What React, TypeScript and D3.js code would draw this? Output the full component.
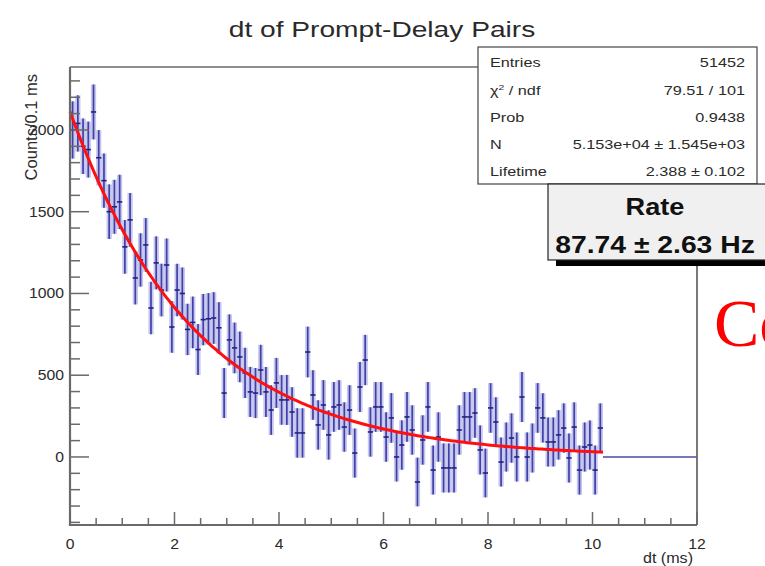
import React from 'react';
import * as d3 from 'd3';

// ---------- data ----------
const binWidth = 0.1;
const histMax = 12;
const counts = [
  2000, 2040, 1900, 1880, 2110, 1830, 1690, 1500, 1530, 1560,
  1285, 1450, 1095, 1205, 1297, 911, 1187, 1021, 1174, 795,
  1021, 1000, 780, 823, 657, 840, 845, 850, 790, 391,
  716, 667, 612, 514, 398, 391, 532, 398, 287, 453,
  349, 349, 275, 147, 147, 642, 379, 196, 318, 135,
  306, 318, 183, 287, 24, 428, 593, 153, 306, 306,
  122, 239, 0, 73, 245, 165, -153, 104, 306, -80,
  122, -67, -67, -67, 165, 245, 245, 269, 43, -98,
  300, 214, -31, 61, 116, 0, 367, 0, 55, 300,
  239, 92, 92, 135, 177, -6, 183, -80, 61, 73,
  -80, 177,
];
const errors = [
  175, 172, 170, 171, 168, 169, 166, 167, 165, 166,
  164, 165, 162, 163, 164, 160, 162, 161, 162, 158,
  160, 159, 157, 158, 156, 157, 157, 158, 157, 153,
  156, 155, 155, 154, 153, 153, 154, 153, 152, 153,
  152, 153, 152, 151, 151, 155, 152, 151, 152, 151,
  152, 152, 151, 152, 150, 153, 154, 151, 152, 152,
  151, 152, 150, 151, 152, 151, 149, 151, 152, 150,
  151, 150, 150, 150, 151, 152, 152, 152, 150, 149,
  152, 151, 150, 150, 151, 150, 153, 150, 150, 152,
  151, 150, 150, 151, 151, 150, 151, 150, 150, 150,
  150, 151,
];
const xMajorTicks = [0, 2, 4, 6, 8, 10, 12];
const yMajorTicks = [0, 500, 1000, 1500, 2000];
const statsLabels = ['Entries', 'CHI', 'Prob', 'N', 'Lifetime'];
const statsValues = ['51452', '79.51 / 101', '0.9438', '5.153e+04 \u00b1 1.545e+03', '2.388 \u00b1 0.102'];
const fitN = 51530;
const fitTau = 2.388;
const rateLabel = 'Rate';
const rateValue = '87.74 \u00b1 2.63 Hz';
const titleText = 'dt of Prompt-Delay Pairs';
const xTitle = 'dt (ms)';
const yTitle = 'Counts/0.1 ms';
const sideText = 'Co';

// ---------- layout ----------
const W = 765;
const H = 566;
const frame = { left: 70, right: 697, top: 67, bottom: 525 };
const SANS = '"Liberation Sans", Arial, Helvetica, sans-serif';

export default function App() {
  const x = d3.scaleLinear().domain([0, histMax]).range([frame.left, frame.right]);
  const y = d3.scaleLinear().domain([-416, 2385]).range([frame.bottom, frame.top]);

  const dataEnd = counts.length * binWidth;
  const fitFn = (t: number) =>
    fitN * (Math.exp(-t / fitTau) - Math.exp(-(t + binWidth) / fitTau));
  const fitPts = d3.range(0, dataEnd + 1e-9, dataEnd / 200).map((t) => [t, fitFn(t)] as [number, number]);
  const fitPath = d3.line<[number, number]>().x((d) => x(d[0])).y((d) => y(d[1]))(fitPts) || '';

  const xMinor = d3.range(0, histMax + 1e-9, 0.5);
  const yMinor = d3.range(-400, 2301, 100);

  const axisCol = '#6a6a6a';
  const textCol = '#2a2a2a';

  const T = (props: {
    x: number; y: number; sx: number; size: number; anchor?: string; weight?: string;
    fill?: string; family?: string; children: React.ReactNode;
  }) => (
    <text
      transform={`translate(${props.x},${props.y}) scale(${props.sx},1)`}
      fontSize={props.size}
      textAnchor={props.anchor || 'start'}
      fontWeight={props.weight || 'normal'}
      fill={props.fill || textCol}
      fontFamily={props.family || SANS}
    >
      {props.children}
    </text>
  );

  const statTop = 47;
  const rowY = [67, 94.5, 121.5, 148.5, 176];

  return (
    <div style={{ position: 'absolute', left: 0, top: 0 }}>
      <svg width={W} height={H} style={{ display: 'block', background: '#fff' }}>
        <rect x={0} y={0} width={W} height={H} fill="#fff" />

        {/* title */}
        <T x={382} y={37} sx={1.28} size={22} anchor="middle">{titleText}</T>

        {/* error bands */}
        <g>
          {counts.map((c, i) => (
            <rect
              key={'b' + i}
              x={x(i * binWidth)}
              y={y(c + errors[i])}
              width={x((i + 1) * binWidth) - x(i * binWidth)}
              height={y(c - errors[i]) - y(c + errors[i])}
              fill="#9090dc"
              fillOpacity={0.5}
            />
          ))}
        </g>
        {/* error bars */}
        <g>
          {counts.map((c, i) => {
            const cx = x((i + 0.5) * binWidth);
            return (
              <g key={'e' + i}>
                <line x1={cx} x2={cx} y1={y(c + errors[i])} y2={y(c - errors[i])} stroke="#4040aa" strokeWidth={1.7} />
                <line x1={x(i * binWidth)} x2={x((i + 1) * binWidth)} y1={y(c)} y2={y(c)} stroke="#22227e" strokeWidth={1.6} />
              </g>
            );
          })}
        </g>
        {/* empty bins */}
        <line x1={x(dataEnd)} x2={x(histMax)} y1={y(0)} y2={y(0)} stroke="#4a4aa8" strokeWidth={1.3} />

        {/* fit */}
        <path d={fitPath} fill="none" stroke="#ff1010" strokeWidth={3} />

        {/* frame */}
        <line x1={frame.left} x2={frame.right} y1={frame.top} y2={frame.top} stroke={axisCol} strokeWidth={1.5} />
        <line x1={frame.right} x2={frame.right} y1={frame.top} y2={frame.bottom} stroke={axisCol} strokeWidth={1.8} />
        <line x1={frame.left} x2={frame.left} y1={frame.top} y2={frame.bottom + 1} stroke={axisCol} strokeWidth={2.2} />
        <line x1={frame.left - 1} x2={frame.right} y1={frame.bottom} y2={frame.bottom} stroke={axisCol} strokeWidth={2.2} />

        {/* x ticks */}
        {xMinor.map((v) => {
          const major = xMajorTicks.includes(v);
          return (
            <line key={'xt' + v} x1={x(v)} x2={x(v)} y1={frame.bottom} y2={frame.bottom - (major ? 13 : 7)} stroke={axisCol} strokeWidth={1.5} />
          );
        })}
        {xMajorTicks.map((v) => (
          <T key={'xl' + v} x={x(v)} y={549} sx={1.05} size={15} anchor="middle">{v}</T>
        ))}
        <T x={693} y={563} sx={1.15} size={14} anchor="end">{xTitle}</T>

        {/* y ticks */}
        {yMinor.map((v) => {
          const major = yMajorTicks.includes(v);
          return (
            <line key={'yt' + v} x1={frame.left} x2={frame.left + (major ? 19 : 10)} y1={y(v)} y2={y(v)} stroke={axisCol} strokeWidth={1.5} />
          );
        })}
        {yMajorTicks.map((v) => (
          <T key={'yl' + v} x={64} y={y(v) + 5} sx={1.05} size={15} anchor="end">{v}</T>
        ))}
        <text
          transform={`translate(37,74) rotate(-90)`}
          fontSize={16.5}
          textAnchor="end"
          fill={textCol}
          fontFamily={SANS}
        >
          {yTitle}
        </text>

        {/* stats box */}
        <rect x={478} y={statTop} width={279} height={137} fill="#fff" stroke="#444" strokeWidth={1.2} />
        {statsLabels.map((l, i) => (
          <g key={'s' + i}>
            {l === 'CHI' ? (
              <text transform={`translate(490,${rowY[i]}) scale(1.3,1)`} fontSize={12.5} fill={textCol} fontFamily={SANS}>
                <tspan>{'\u03c7'}</tspan>
                <tspan dy={-5} fontSize={8}>2</tspan>
                <tspan dy={5}>{' / ndf'}</tspan>
              </text>
            ) : (
              <T x={490} y={rowY[i]} sx={1.3} size={12.5}>{l}</T>
            )}
            <T x={745} y={rowY[i]} sx={1.3} size={12.5} anchor="end">{statsValues[i]}</T>
          </g>
        ))}

        {/* rate box */}
        <rect x={556} y={189} width={240} height={77} fill="#000" />
        <rect x={548} y={184} width={240} height={76} fill="#f0f0f0" stroke="#222" strokeWidth={1.2} />
        <T x={655} y={215} sx={1.18} size={23} anchor="middle" weight="bold" fill="#111">{rateLabel}</T>
        <T x={655} y={253} sx={1.18} size={24} anchor="middle" weight="bold" fill="#111">{rateValue}</T>

        {/* side text */}
        <text x={714} y={346} fontSize={68} fill="#ff0000" fontFamily='"Liberation Serif", "Times New Roman", serif'>
          {sideText}
        </text>
      </svg>
    </div>
  );
}
